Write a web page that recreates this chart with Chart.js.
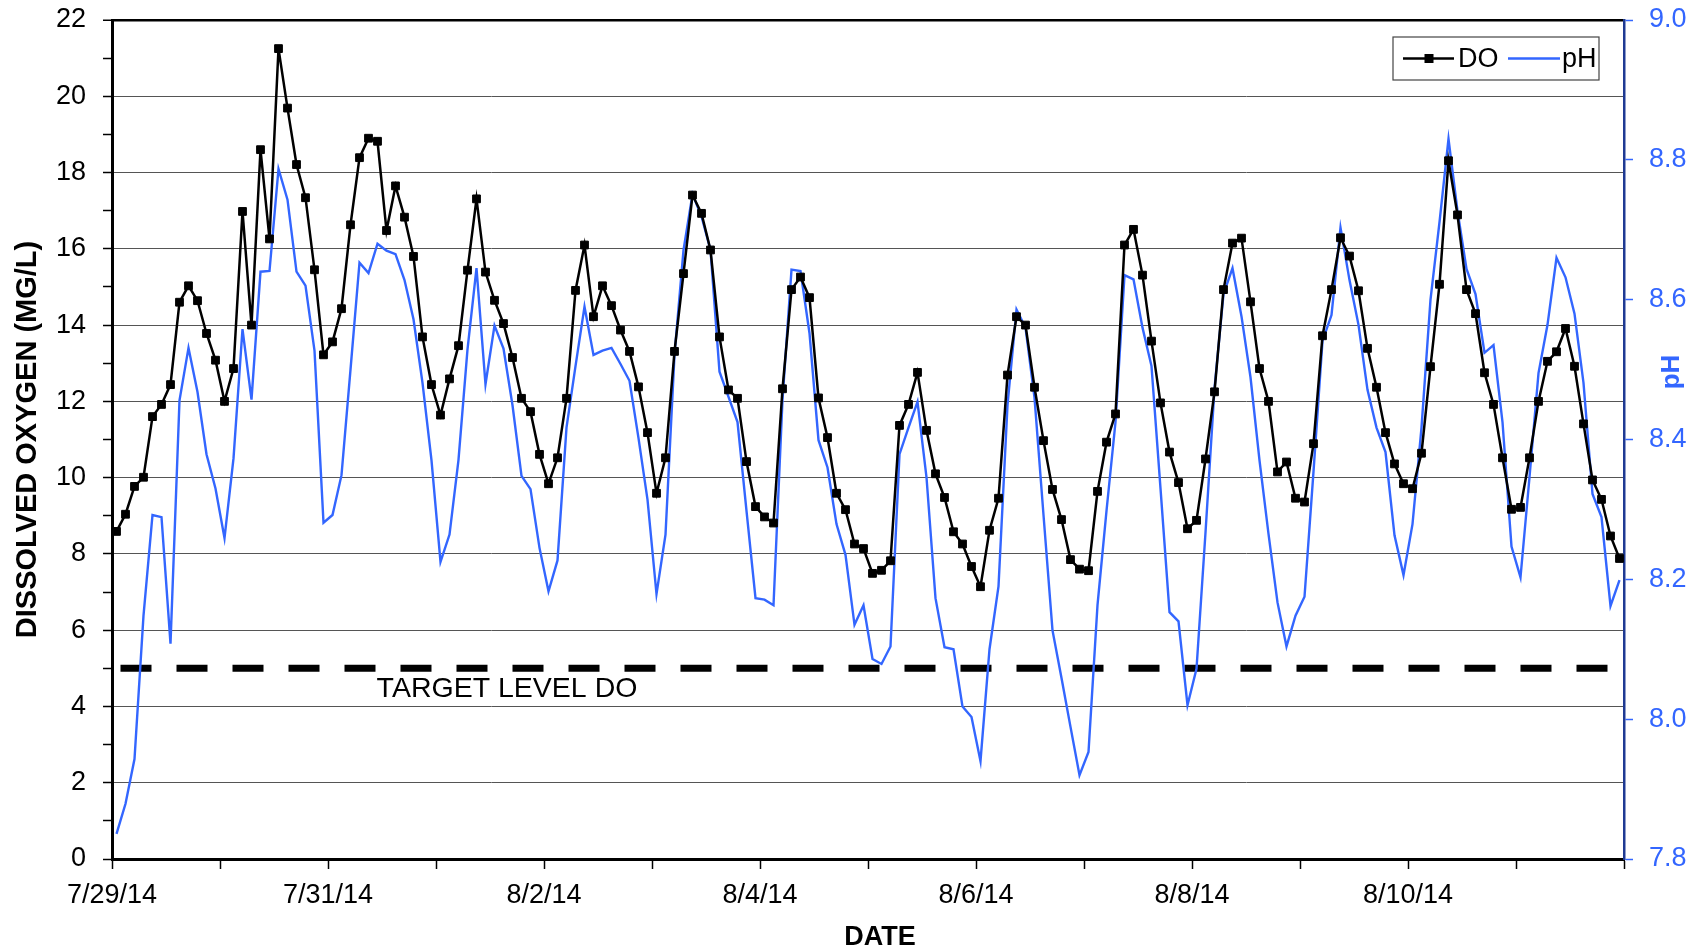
<!DOCTYPE html>
<html>
<head>
<meta charset="utf-8">
<title>Dissolved Oxygen and pH</title>
<script src="https://cdn.jsdelivr.net/npm/chart.js@4.4.0/dist/chart.umd.min.js"></script>
<style>
  html, body { margin: 0; padding: 0; background: #fff; }
  #wrap { width: 1703px; height: 949px; }
</style>
</head>
<body>
<div id="wrap"><canvas id="doChart" width="1703" height="949"></canvas></div>
<script>
// Readings every 2 hours, 12 per day, 7/29/14 - 8/11/14
const dateLabels = ['7/29/14', '7/31/14', '8/2/14', '8/4/14', '8/6/14', '8/8/14', '8/10/14'];
const readingsPerDay = 12;

// Dissolved oxygen (mg/L)
const doValues = [
  8.59, 9.04, 9.77, 10.01, 11.6, 11.92, 12.44, 14.6, 15.03, 14.64, 13.78, 13.08, 12.0, 12.86, 16.98, 14.0, 18.6, 16.26, 21.25, 19.69, 18.21, 17.34, 15.45, 13.22,
  13.56, 14.43, 16.63, 18.39, 18.9, 18.82, 16.48, 17.65, 16.83, 15.8, 13.69, 12.44, 11.64, 12.59, 13.46, 15.44, 17.31, 15.39, 14.65, 14.04, 13.15, 12.08, 11.73, 10.61,
  9.84, 10.52, 12.08, 14.91, 16.1, 14.22, 15.03, 14.51, 13.87, 13.31, 12.38, 11.18, 9.59, 10.52, 13.31, 15.35, 17.41, 16.93, 15.97, 13.69, 12.3, 12.08, 10.42, 9.24,
  8.97, 8.81, 12.33, 14.93, 15.26, 14.72, 12.09, 11.05, 9.59, 9.16, 8.26, 8.14, 7.49, 7.57, 7.82, 11.37, 11.92, 12.76, 11.24, 10.1, 9.48, 8.58, 8.26, 7.67,
  7.14, 8.62, 9.46, 12.69, 14.22, 14.0, 12.37, 10.97, 9.69, 8.9, 7.85, 7.6, 7.56, 9.64, 10.93, 11.67, 16.1, 16.51, 15.31, 13.58, 11.96, 10.67, 9.87, 8.66,
  8.88, 10.49, 12.25, 14.93, 16.15, 16.28, 14.61, 12.86, 12.0, 10.15, 10.41, 9.46, 9.36, 10.89, 13.72, 14.93, 16.29, 15.81, 14.9, 13.39, 12.37, 11.18, 10.36, 9.84,
  9.71, 10.64, 12.91, 15.07, 18.31, 16.89, 14.93, 14.3, 12.75, 11.92, 10.52, 9.17, 9.22, 10.52, 12.0, 13.05, 13.3, 13.91, 12.92, 11.41, 9.94, 9.43, 8.47, 7.88
];

// pH
const phValues = [
  7.836, 7.879, 7.943, 8.148, 8.292, 8.289, 8.108, 8.456, 8.531, 8.468, 8.379, 8.330, 8.259, 8.373, 8.558, 8.457, 8.640, 8.641, 8.787, 8.743, 8.640, 8.620, 8.527, 8.281,
  8.292, 8.349, 8.500, 8.653, 8.638, 8.680, 8.670, 8.665, 8.628, 8.572, 8.481, 8.370, 8.225, 8.264, 8.371, 8.529, 8.645, 8.479, 8.563, 8.530, 8.449, 8.348, 8.329, 8.245,
  8.183, 8.227, 8.417, 8.505, 8.590, 8.521, 8.527, 8.531, 8.508, 8.484, 8.402, 8.314, 8.179, 8.264, 8.521, 8.671, 8.751, 8.719, 8.671, 8.497, 8.461, 8.425, 8.298, 8.173,
  8.171, 8.163, 8.457, 8.643, 8.641, 8.552, 8.399, 8.360, 8.279, 8.235, 8.135, 8.163, 8.086, 8.079, 8.104, 8.379, 8.417, 8.454, 8.346, 8.173, 8.103, 8.100, 8.018, 8.003,
  7.940, 8.100, 8.190, 8.449, 8.586, 8.560, 8.460, 8.292, 8.127, 8.059, 7.989, 7.920, 7.953, 8.163, 8.298, 8.425, 8.635, 8.629, 8.560, 8.505, 8.330, 8.153, 8.140, 8.020,
  8.072, 8.267, 8.473, 8.608, 8.645, 8.576, 8.489, 8.370, 8.265, 8.167, 8.104, 8.148, 8.175, 8.354, 8.541, 8.578, 8.703, 8.628, 8.564, 8.471, 8.417, 8.382, 8.263, 8.206,
  8.279, 8.417, 8.600, 8.711, 8.830, 8.727, 8.644, 8.608, 8.524, 8.535, 8.425, 8.247, 8.203, 8.346, 8.495, 8.564, 8.660, 8.632, 8.580, 8.481, 8.322, 8.289, 8.162, 8.199
];

// Target DO level (mg/L)
const targetLevel = 5;

const BLUE = '#3366ff';
const FONT = "'Liberation Sans', Arial, Helvetica, sans-serif";

Chart.defaults.font.family = FONT;
Chart.defaults.font.size = 27;
Chart.defaults.color = '#000';

const count = doValues.length;
// each reading sits in the middle of its 2-hour slot
const toPoints = (arr) => arr.map((v, i) => ({ x: i + 0.5, y: v }));

// keep the vertical axes from pushing the plot area down
const fixVertical = (width) => (s) => {
  s.width = width;
  s.paddingTop = 0;
  s.paddingBottom = 0;
};

// "TARGET LEVEL DO" caption under the dashed line
const targetLabelPlugin = {
  id: 'targetLabel',
  afterDatasetsDraw(chart) {
    const { ctx, scales } = chart;
    const x = scales.x.getPixelForValue(29.4);
    const y = scales.y.getPixelForValue(targetLevel) + 29;
    ctx.save();
    ctx.font = '28.5px ' + FONT;
    ctx.fillStyle = '#000';
    ctx.textAlign = 'left';
    ctx.textBaseline = 'alphabetic';
    ctx.fillText('TARGET LEVEL DO', x, y);
    ctx.restore();
  }
};

// boxed legend in the top right corner, plus the axis titles on the right and bottom
const boxLegendPlugin = {
  id: 'boxLegend',
  afterDraw(chart) {
    const { ctx, chartArea } = chart;
    const left = chartArea.right - 231;
    const top = chartArea.top + 17;
    const w = 206, h = 43;
    const cy = top + h / 2;

    ctx.save();
    ctx.fillStyle = '#fff';
    ctx.fillRect(left, top, w, h);
    ctx.strokeStyle = '#444';
    ctx.lineWidth = 1.2;
    ctx.strokeRect(left, top, w, h);

    // DO sample
    ctx.strokeStyle = '#000';
    ctx.lineWidth = 2.5;
    ctx.beginPath();
    ctx.moveTo(left + 10, cy);
    ctx.lineTo(left + 61, cy);
    ctx.stroke();
    ctx.fillStyle = '#000';
    ctx.fillRect(left + 36 - 4.5, cy - 4.5, 9, 9);

    // pH sample
    ctx.strokeStyle = BLUE;
    ctx.lineWidth = 2.4;
    ctx.beginPath();
    ctx.moveTo(left + 115, cy);
    ctx.lineTo(left + 167, cy);
    ctx.stroke();

    ctx.font = '27px ' + FONT;
    ctx.fillStyle = '#000';
    ctx.textAlign = 'left';
    ctx.textBaseline = 'middle';
    ctx.fillText('DO', left + 65, cy + 1);
    ctx.fillText('pH', left + 169, cy + 1);

    // bottom axis title
    ctx.font = 'bold 27px ' + FONT;
    ctx.textAlign = 'center';
    ctx.textBaseline = 'alphabetic';
    ctx.fillText('DATE', chartArea.left + 768, chartArea.bottom + 86);

    // right axis title, reads bottom to top
    ctx.translate(chartArea.right + 48, chartArea.top + 352);
    ctx.rotate(-Math.PI / 2);
    ctx.font = 'bold 26px ' + FONT;
    ctx.fillStyle = BLUE;
    ctx.textAlign = 'center';
    ctx.textBaseline = 'middle';
    ctx.fillText('pH', 0, 0);
    ctx.restore();
  }
};

function createChart() {
  const ctx = document.getElementById('doChart');

  const data = {
    datasets: [
      {
        label: 'DO',
        data: toPoints(doValues),
        yAxisID: 'y',
        borderColor: '#000',
        backgroundColor: '#000',
        borderWidth: 2.5,
        pointStyle: 'rect',
        pointRadius: 5.5,
        pointBorderWidth: 1,
        pointBackgroundColor: '#000',
        pointBorderColor: '#000',
        tension: 0,
        order: 1
      },
      {
        label: 'pH',
        data: toPoints(phValues),
        yAxisID: 'y2',
        borderColor: BLUE,
        borderWidth: 2.4,
        pointRadius: 0,
        tension: 0,
        order: 2
      },
      {
        label: 'Target',
        data: [{ x: 0.5, y: targetLevel }, { x: count - 0.5, y: targetLevel }],
        yAxisID: 'y',
        borderColor: '#000',
        borderWidth: 7,
        borderDash: [31, 25],
        borderDashOffset: -4,
        borderCapStyle: 'butt',
        pointRadius: 0,
        order: 3
      }
    ]
  };

  const config = {
    type: 'line',
    data: data,
    options: {
      responsive: false,
      animation: false,
      devicePixelRatio: 1,
      layout: { padding: { top: 20, left: 0, right: 0, bottom: 0 } },
      plugins: {
        legend: { display: false },
        tooltip: { enabled: false }
      },
      scales: {
        x: {
          type: 'linear',
          min: 0,
          max: count,
          ticks: {
            stepSize: readingsPerDay,
            autoSkip: false,
            maxRotation: 0,
            padding: 10,
            color: '#000',
            callback: (v) => {
              const k = v / (readingsPerDay * 2);
              return Number.isInteger(k) && dateLabels[k] ? dateLabels[k] : '';
            }
          },
          grid: {
            drawOnChartArea: false,
            tickLength: 10,
            tickColor: '#000',
            tickWidth: 1.5
          },
          border: { color: '#000', width: 3 },
          afterFit: (s) => { s.height = 90; }
        },
        y: {
          type: 'linear',
          position: 'left',
          min: 0,
          max: 22,
          ticks: {
            stepSize: 1,
            autoSkip: false,
            padding: 17,
            color: '#000',
            callback: (v) => (v % 2 === 0 ? v : '')
          },
          grid: {
            color: (c) => {
              if (!c.tick) return 'rgba(0,0,0,0)';
              if (c.tick.value === 22) return '#000';
              return c.tick.value % 2 === 0 ? '#555' : 'rgba(0,0,0,0)';
            },
            lineWidth: (c) => (c.tick && c.tick.value === 22 ? 2.5 : 1),
            tickLength: 9,
            tickColor: '#000',
            tickWidth: 1.5
          },
          border: { color: '#000', width: 3 },
          title: {
            display: true,
            text: 'DISSOLVED OXYGEN (MG/L)',
            color: '#000',
            font: { size: 29, weight: 'bold' },
            padding: { top: 11, bottom: 0 }
          },
          afterFit: fixVertical(112)
        },
        y2: {
          type: 'linear',
          position: 'right',
          min: 7.8,
          max: 9.0,
          ticks: {
            stepSize: 0.2,
            padding: 16,
            color: BLUE,
            callback: (v) => Number(v).toFixed(1)
          },
          grid: {
            drawOnChartArea: false,
            tickLength: 9,
            tickColor: BLUE,
            tickWidth: 1.5
          },
          border: { color: '#1f3a93', width: 2.5 },
          afterFit: fixVertical(79)
        }
      }
    },
    plugins: [targetLabelPlugin, boxLegendPlugin]
  };

  new Chart(ctx, config);
}

createChart();
</script>
</body>
</html>
